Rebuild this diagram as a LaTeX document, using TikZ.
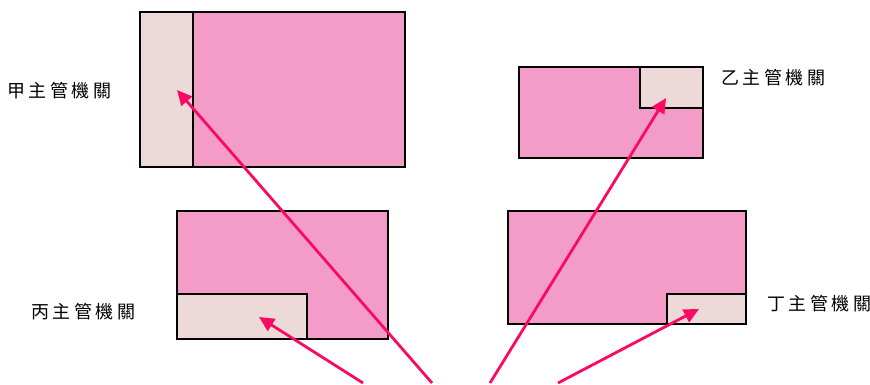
\documentclass[tikz,border=0pt]{standalone}
\usepackage{fontspec}
\newfontfamily\cjkfont[LetterSpace=20]{Noto Sans CJK TC}
\usetikzlibrary{arrows.meta}
\definecolor{boxpink}{RGB}{244,156,200}
\definecolor{panelpink}{RGB}{238,217,217}
\definecolor{arrowred}{RGB}{250,10,100}
\begin{document}
\begin{tikzpicture}[x=1pt,y=-1pt,
  outerbox/.style={draw=black,line width=2.6pt,fill=boxpink},
  panelbox/.style={draw=black,line width=2.6pt,fill=panelpink},
  lbl/.style={anchor=west,inner sep=0pt,font=\cjkfont\fontsize{18}{18}\selectfont},
  pointer/.style={draw=arrowred,line width=2.8pt,-{Triangle[length=15pt,width=14pt]}}]
\useasboundingbox (0,0) rectangle (870,385);
% Box A
\draw[outerbox] (140,12) rectangle (405,167);
\draw[panelbox] (140,12) rectangle (193,167);
% Box B
\draw[outerbox] (519,67) rectangle (703,158);
\draw[panelbox] (640,67) rectangle (703,108);
% Box C
\draw[outerbox] (177,211) rectangle (388,339);
\draw[panelbox] (177,294) rectangle (307,339);
% Box D
\draw[outerbox] (508,211) rectangle (746,324);
\draw[panelbox] (667,294) rectangle (746,324);
% labels
\node[lbl] (la) at (7,91) {甲主管機關};
\node[lbl] (lb) at (721,78) {乙主管機關};
\node[lbl] (lc) at (31,312) {丙主管機關};
\node[lbl] (ld) at (767,304) {丁主管機關};
% arrow endpoints
\coordinate (s1) at (432,383);
\coordinate (t1) at (177,90);
\coordinate (s2) at (490,383);
\coordinate (t2) at (666,98);
\coordinate (s3) at (363,383);
\coordinate (t3) at (259,317);
\coordinate (s4) at (558,383);
\coordinate (t4) at (699,309);
\draw[pointer] (s1) -- (t1);
\draw[pointer] (s2) -- (t2);
\draw[pointer] (s3) -- (t3);
\draw[pointer] (s4) -- (t4);
\end{tikzpicture}
\end{document}
